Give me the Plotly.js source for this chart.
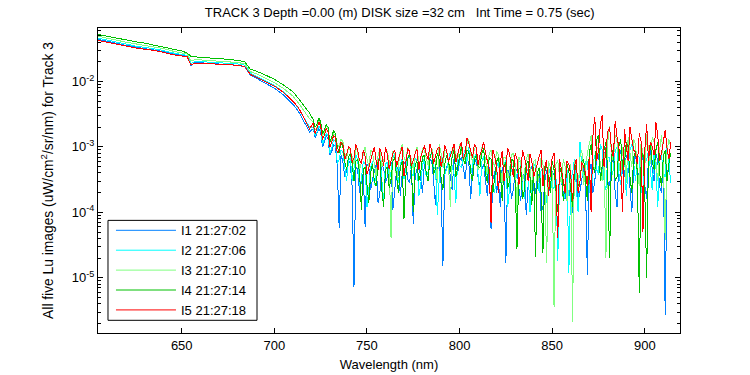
<!DOCTYPE html>
<html><head><meta charset="utf-8">
<script src="https://cdn.plot.ly/plotly-3.0.1.min.js"></script>
<style>html,body{margin:0;padding:0;background:#fff}#chart{width:750px;height:375px}
#chart .scatterlayer path.js-line{shape-rendering:crispEdges}</style>
</head><body><div id="chart"></div>
<script>
// Wavelength grid (nm)
const wavelength = [605,610,615,620,625,630,635,640,645,650,653,655,657,660,665,670,675,680,684,687,690,695,700,705,710,713,716,719,
721,722,723,724,725,726,727,728,729,730,
731,732,733,734,735,736,737,738,739,740,
741,742,743,744,745,746,747,748,749,750,
751,752,753,754,755,756,757,758,759,760,
761,762,763,764,765,766,767,768,769,770,
771,772,773,774,775,776,777,778,779,780,
781,782,783,784,785,786,787,788,789,790,
791,792,793,794,795,796,797,798,799,800,
801,802,803,804,805,806,807,808,809,810,
811,812,813,814,815,816,817,818,819,820,
821,822,823,824,825,826,827,828,829,830,
831,832,833,834,835,836,837,838,839,840,
841,842,843,844,845,846,847,848,849,850,
851,852,853,854,855,856,857,858,859,860,
861,862,863,864,865,866,867,868,869,870,
871,872,873,874,875,876,877,878,879,880,
881,882,883,884,885,886,887,888,889,890,
891,892,893,894,895,896,897,898,899,900,
901,902,903,904,905,906,907,908,909,910,
911,912,913,914];

const seriesNames = ["I1 21:27:02","I2 21:27:06","I3 21:27:10","I4 21:27:14","I5 21:27:18"];
const seriesColors = ["#0080FF","#00FFFF","#80FF80","#00C000","#FF0000"];

const I1 = [0.0440,0.0408,0.0382,0.0356,0.0335,0.0319,0.0306,0.0287,0.0264,0.0250,0.0242,0.0176,0.0192,0.0193,0.0190,0.0186,0.0181,0.0177,0.0168,0.0126,0.0113,0.0095,0.0079,0.0062,0.0045,0.0035,0.0025,0.0017,
1.9e-3,1.4e-3,1.6e-3,1.9e-3,1.7e-3,1.0e-3,1.2e-3,1.5e-3,1.3e-3,7.5e-4,
8.5e-4,1.1e-3,1.0e-3,5.0e-4,5.8e-5,7.5e-4,6.0e-4,3.5e-4,4.2e-4,6.5e-4,
5.5e-4,2.5e-4,7.3e-6,5.0e-4,4.5e-4,2.0e-4,3.0e-4,4.0e-4,6.0e-5,5.5e-4,
5.0e-4,2.2e-4,3.2e-4,4.5e-4,5.5e-4,1.4e-4,2.0e-4,5.2e-4,4.8e-4,2.8e-4,
3.5e-4,6.0e-4,5.8e-4,1.1e-4,2.6e-4,4.4e-4,5.0e-4,1.8e-4,3.8e-4,5.5e-4,
6.2e-4,3.2e-4,2.8e-4,5.0e-4,6.6e-5,3.5e-4,4.6e-4,5.8e-4,3.3e-4,2.0e-4,
5.6e-4,4.2e-4,3.0e-4,6.5e-4,6.0e-4,3.0e-4,1.3e-4,4.8e-4,5.2e-4,2.8e-4,
1.5e-5,4.0e-4,4.8e-4,6.0e-4,3.6e-4,2.2e-4,6.5e-4,5.0e-4,4.0e-4,6.2e-4,
7.0e-4,4.8e-4,3.2e-4,6.5e-4,5.8e-4,1.6e-4,4.5e-4,5.5e-4,6.8e-4,3.4e-4,
2.5e-4,4.6e-4,5.5e-4,3.0e-4,1.8e-4,5.0e-4,5.5e-5,3.2e-4,4.2e-4,2.0e-4,
3.0e-4,1.2e-4,5.0e-4,3.6e-4,1.7e-5,4.5e-4,3.8e-4,1.6e-4,2.2e-4,4.0e-4,
4.6e-4,2.4e-4,1.5e-4,3.2e-4,4.0e-4,9.0e-5,2.6e-4,4.5e-4,5.0e-4,2.2e-4,
1.9e-4,4.0e-4,3.5e-4,1.0e-4,1.2e-4,3.0e-4,4.4e-4,2.6e-4,2.0e-4,4.2e-4,
3.8e-4,1.5e-4,6.0e-5,3.5e-4,3.0e-4,2.0e-4,1.6e-4,3.6e-4,4.5e-4,1.0e-4,
1.0e-4,3.8e-4,3.2e-4,1.4e-4,2.2e-4,3.6e-4,4.8e-4,2.4e-4,1.1e-5,4.0e-4,
5.5e-4,2.0e-4,3.0e-4,6.5e-4,8.0e-4,3.5e-4,4.0e-4,7.0e-4,1.0e-3,3.0e-4,
2.5e-4,5.5e-4,7.0e-4,2.0e-4,1.2e-4,6.0e-4,9.0e-4,4.0e-4,3.5e-4,7.5e-4,
6.5e-4,2.4e-4,1.0e-4,5.0e-4,8.5e-4,3.0e-4,4.0e-4,6.0e-4,7.5e-4,2.6e-4,
1.6e-4,7.0e-4,9.5e-4,4.5e-4,3.0e-4,8.0e-4,6.0e-4,2.5e-4,2.0e-4,6.5e-4,
2.7e-6,4.0e-4,5.0e-4,3.0e-4];

const I2 = [0.0458,0.0425,0.0398,0.0370,0.0348,0.0332,0.0318,0.0298,0.0274,0.0260,0.0250,0.0188,0.0200,0.0201,0.0198,0.0194,0.0190,0.0186,0.0178,0.0135,0.0122,0.0104,0.0087,0.0069,0.0050,0.0039,0.0028,0.0020,
2.0e-3,1.5e-3,1.7e-3,2.1e-3,1.9e-3,1.1e-3,1.3e-3,1.6e-3,1.5e-3,8.0e-4,
9.5e-4,1.3e-3,1.2e-3,5.5e-4,6.5e-4,9.0e-4,8.5e-4,5.0e-4,3.0e-4,6.0e-4,
7.0e-4,3.0e-4,4.5e-4,7.5e-4,6.5e-4,2.5e-4,3.2e-4,6.0e-4,5.5e-4,1.2e-4,
2.2e-4,5.0e-4,6.0e-4,2.6e-4,4.0e-4,6.5e-4,7.0e-4,3.0e-4,1.5e-4,5.5e-4,
5.8e-4,3.0e-4,4.2e-4,6.8e-4,8.0e-4,4.0e-4,2.8e-4,5.5e-4,6.5e-4,3.2e-4,
4.8e-4,7.0e-4,7.5e-4,4.0e-4,3.6e-4,6.8e-4,6.0e-4,1.8e-4,2.6e-4,5.2e-4,
6.8e-4,3.5e-4,4.2e-4,7.0e-4,8.2e-4,4.6e-4,5.0e-4,9.0e-5,3.2e-4,6.0e-4,
7.0e-4,3.8e-4,4.5e-4,6.5e-4,8.5e-4,5.0e-4,3.8e-4,1.4e-4,6.8e-4,5.2e-4,
4.8e-4,7.5e-4,9.0e-4,6.0e-4,1.0e-3,3.8e-4,5.5e-4,7.0e-4,8.0e-4,4.2e-4,
1.8e-4,6.0e-4,7.2e-4,3.5e-4,4.4e-4,6.8e-4,6.5e-4,2.6e-4,2.0e-4,5.0e-4,
5.8e-4,2.8e-4,3.5e-4,5.5e-4,6.2e-4,1.2e-4,2.4e-4,4.8e-4,5.2e-4,3.0e-4,
3.8e-4,6.0e-4,5.8e-4,2.2e-4,1.6e-4,4.2e-4,4.6e-4,1.0e-4,2.8e-4,5.0e-4,
5.5e-4,3.2e-4,2.0e-4,4.5e-4,4.2e-4,1.8e-4,1.4e-4,5.0e-4,3.8e-4,2.2e-4,
2.4e-4,4.0e-4,1.8e-5,3.2e-4,3.6e-4,1.5e-4,2.0e-4,4.4e-4,1.2e-5,3.0e-4,
4.0e-4,6.5e-4,2.5e-4,1.0e-4,1.2e-3,5.0e-4,3.0e-4,6.0e-4,6.0e-4,2.4e-4,
1.5e-4,5.5e-4,7.5e-4,4.5e-4,3.8e-4,1.1e-3,9.0e-4,3.0e-4,2.2e-4,7.0e-4,
6.8e-4,3.5e-4,4.5e-4,8.5e-4,1.0e-3,4.0e-4,2.6e-4,6.0e-4,8.0e-4,1.8e-4,
5.0e-4,9.0e-4,1.1e-3,5.5e-4,3.0e-4,7.5e-4,7.0e-4,2.4e-4,1.6e-4,6.5e-4,
6.2e-4,9.0e-4,4.0e-4,2.2e-4,8.5e-4,5.0e-4,1.2e-4,6.0e-4,7.5e-4,4.0e-4,
3.5e-4,1.0e-3,6.0e-4,2.8e-4];

const I3 = [0.0490,0.0455,0.0425,0.0398,0.0376,0.0358,0.0340,0.0318,0.0292,0.0275,0.0262,0.0205,0.0215,0.0214,0.0210,0.0206,0.0201,0.0195,0.0187,0.0142,0.0132,0.0113,0.0096,0.0078,0.0060,0.0047,0.0036,0.0027,
2.4e-3,1.8e-3,2.0e-3,2.6e-3,2.3e-3,1.5e-3,1.7e-3,2.1e-3,1.9e-3,1.2e-3,
1.3e-3,1.6e-3,1.5e-3,1.1e-3,1.0e-3,1.3e-3,1.2e-3,8.0e-4,6.5e-4,1.0e-3,
9.0e-4,7.0e-4,5.5e-4,1.0e-3,8.5e-4,4.5e-4,6.0e-4,8.0e-4,1.0e-3,6.5e-4,
5.0e-4,9.0e-4,8.0e-4,5.5e-4,3.5e-4,7.5e-4,9.0e-4,5.0e-4,6.0e-4,9.5e-4,
8.5e-4,6.0e-4,4.0e-5,8.5e-4,7.5e-4,3.0e-4,5.5e-4,9.0e-4,1.1e-3,7.0e-4,
6.0e-4,1.0e-3,8.0e-4,6.5e-4,4.5e-4,8.0e-4,1.0e-3,5.5e-4,6.5e-4,9.5e-4,
8.8e-4,6.8e-4,5.2e-4,1.0e-3,9.5e-4,7.0e-4,6.0e-4,2.8e-4,1.1e-3,8.0e-4,
5.0e-4,9.0e-4,8.5e-4,6.0e-4,1.2e-4,8.0e-4,1.0e-3,7.5e-4,6.5e-4,1.1e-3,
9.0e-4,6.0e-4,7.0e-4,1.1e-3,1.3e-3,7.5e-4,5.8e-4,9.5e-4,1.0e-3,4.5e-4,
6.2e-4,1.0e-3,8.8e-4,6.5e-4,3.8e-4,8.0e-4,9.0e-4,6.0e-4,5.0e-4,8.5e-4,
7.5e-4,5.0e-4,2.8e-4,7.0e-4,6.8e-4,3.2e-4,4.5e-4,7.5e-4,8.0e-4,5.5e-4,
1.0e-4,7.0e-4,6.0e-4,3.0e-4,4.0e-4,6.5e-4,7.8e-4,5.0e-4,2.2e-4,6.0e-4,
6.5e-4,2.5e-4,3.8e-4,7.0e-4,5.5e-4,3.0e-4,1.7e-5,6.0e-4,5.0e-4,4.0e-4,
3.6e-6,5.5e-4,6.2e-4,3.5e-4,2.8e-4,6.5e-4,5.0e-4,1.5e-4,2.0e-4,5.5e-4,
2.1e-6,6.0e-4,4.5e-4,2.0e-4,7.0e-4,9.0e-4,2.6e-4,5.0e-4,8.0e-4,1.1e-3,
1.5e-3,6.5e-4,4.0e-4,1.0e-3,9.0e-4,5.5e-4,3.0e-4,8.0e-4,2.0e-5,1.2e-3,
2.1e-3,8.0e-4,6.0e-4,1.5e-3,1.2e-3,6.0e-4,3.5e-4,1.0e-3,9.0e-4,2.8e-4,
1.4e-3,8.0e-4,5.0e-4,1.3e-3,1.1e-3,4.5e-4,2.5e-4,1.2e-3,8.0e-4,5.0e-4,
1.6e-3,9.0e-4,5.5e-4,1.4e-3,1.2e-3,6.0e-4,3.0e-4,9.0e-4,1.5e-3,7.0e-4,
3.8e-5,8.5e-4,1.3e-3,1.0e-3];

const I4 = [0.0522,0.0488,0.0458,0.0430,0.0405,0.0385,0.0360,0.0340,0.0315,0.0292,0.0272,0.0240,0.0238,0.0235,0.0230,0.0225,0.0218,0.0210,0.0200,0.0155,0.0145,0.0126,0.0108,0.0088,0.0070,0.0055,0.0043,0.0033,
2.6e-3,2.0e-3,2.2e-3,2.8e-3,2.4e-3,1.6e-3,1.8e-3,2.2e-3,2.0e-3,1.2e-3,
1.4e-3,1.8e-3,1.6e-3,1.0e-3,8.0e-4,1.2e-3,1.0e-3,6.0e-4,4.5e-4,7.0e-4,
8.0e-4,5.5e-4,3.0e-4,6.0e-4,6.5e-4,4.0e-4,1.1e-4,4.5e-4,5.0e-4,2.6e-4,
1.4e-4,4.0e-4,5.5e-4,3.0e-4,2.5e-4,6.0e-4,6.5e-4,2.2e-4,1.2e-4,4.5e-4,
5.0e-4,2.4e-4,3.2e-4,6.0e-4,7.0e-4,3.5e-4,2.0e-4,5.0e-4,6.0e-4,8.0e-5,
3.5e-4,6.5e-4,8.0e-4,4.5e-4,1.0e-4,5.5e-4,6.0e-4,3.0e-4,4.0e-4,7.0e-4,
7.5e-4,4.0e-4,3.0e-4,6.8e-4,8.5e-4,3.8e-4,4.6e-4,8.0e-4,6.5e-4,3.4e-4,
2.2e-4,5.5e-4,7.5e-4,6.0e-4,4.2e-4,7.0e-4,9.0e-4,3.5e-4,5.0e-4,8.0e-4,
1.0e-3,6.5e-4,5.5e-4,9.0e-4,8.5e-4,4.0e-4,3.0e-4,6.5e-4,7.5e-4,5.0e-4,
4.8e-4,8.0e-4,9.5e-4,4.0e-4,2.8e-4,7.0e-4,6.5e-4,2.0e-4,3.6e-4,6.0e-4,
7.0e-4,4.0e-4,1.5e-4,5.0e-4,5.8e-4,2.4e-4,3.0e-4,6.5e-4,6.2e-4,3.0e-4,
2.8e-5,4.5e-4,5.0e-4,1.6e-4,2.2e-4,5.5e-4,6.0e-4,3.5e-4,1.3e-4,5.0e-4,
2.1e-5,4.0e-4,4.8e-4,2.0e-4,2.4e-5,4.2e-4,5.5e-4,3.0e-4,2.0e-4,6.0e-4,
4.5e-4,2.2e-4,1.0e-4,4.0e-4,5.0e-4,1.5e-4,2.6e-4,5.5e-4,4.2e-4,2.0e-4,
1.2e-4,4.0e-4,5.5e-4,2.5e-4,3.0e-4,6.0e-4,6.5e-4,3.0e-4,1.5e-4,8.0e-4,
1.1e-3,5.0e-4,4.0e-4,1.3e-3,1.5e-3,3.0e-4,5.0e-4,9.0e-4,1.2e-3,4.0e-4,
2.0e-5,7.0e-4,9.5e-4,3.0e-4,3.5e-4,1.0e-3,1.3e-3,4.5e-4,5.5e-4,1.2e-3,
1.0e-3,3.5e-4,2.0e-4,7.0e-4,8.5e-4,4.0e-4,5.9e-6,6.0e-4,8.0e-4,2.0e-4,
1.0e-5,7.5e-4,1.1e-3,6.0e-4,4.5e-4,9.0e-4,1.2e-3,4.0e-4,2.5e-4,7.0e-4,
9.0e-4,3.0e-4,5.5e-4,8.0e-4];

const I5 = [0.0424,0.0395,0.0370,0.0345,0.0325,0.0310,0.0299,0.0280,0.0258,0.0245,0.0238,0.0178,0.0190,0.0190,0.0187,0.0184,0.0180,0.0177,0.0170,0.0128,0.0117,0.0100,0.0085,0.0068,0.0050,0.0040,0.0028,0.0019,
2.3e-3,1.6e-3,1.9e-3,2.4e-3,2.1e-3,1.3e-3,1.5e-3,1.9e-3,1.7e-3,1.0e-3,
1.2e-3,1.5e-3,1.4e-3,8.0e-4,9.0e-4,1.2e-3,1.1e-3,6.5e-4,7.5e-4,1.0e-3,
9.5e-4,5.8e-4,6.8e-4,1.1e-3,8.8e-4,6.2e-4,5.5e-4,9.0e-4,7.2e-4,3.8e-4,
4.8e-4,6.5e-4,8.0e-4,1.0e-3,6.0e-4,4.5e-4,9.5e-4,7.5e-4,5.2e-4,9.8e-4,
7.8e-4,4.6e-4,5.8e-4,8.0e-4,9.0e-4,5.0e-4,6.5e-4,7.8e-4,1.0e-3,3.6e-4,
5.6e-4,9.5e-4,8.5e-4,5.2e-4,6.2e-4,8.0e-4,9.2e-4,4.4e-4,7.0e-4,9.0e-4,
1.05e-3,7.8e-4,6.4e-4,1.1e-3,8.8e-4,5.5e-4,7.5e-4,9.5e-4,1.0e-3,5.0e-4,
6.6e-4,1.05e-3,8.9e-4,6.0e-4,7.2e-4,9.2e-4,1.1e-3,5.8e-4,7.8e-4,1.0e-3,
1.2e-3,6.5e-4,8.0e-4,1.35e-3,1.15e-3,8.5e-4,6.8e-4,1.1e-3,9.8e-4,5.4e-4,
7.5e-4,9.0e-4,1.2e-3,8.2e-4,6.0e-4,4.5e-4,7.0e-5,9.0e-4,7.0e-4,5.0e-4,
2.0e-4,6.0e-4,8.5e-4,3.0e-4,5.0e-4,9.5e-4,7.8e-4,5.2e-4,3.5e-4,8.0e-4,
6.5e-4,2.6e-4,4.2e-4,8.8e-4,7.0e-4,5.0e-4,3.0e-4,7.8e-4,6.0e-4,3.5e-4,
4.5e-4,6.0e-4,7.5e-4,9.0e-4,2.5e-4,5.0e-4,6.2e-4,1.8e-4,4.0e-4,6.8e-4,
8.0e-4,3.0e-4,4.0e-5,6.5e-4,4.5e-4,2.8e-4,2.0e-4,6.0e-4,5.5e-4,3.8e-4,
1.5e-4,5.0e-4,6.5e-4,2.0e-4,3.0e-4,5.8e-4,5.0e-4,4.0e-4,2.5e-4,7.0e-4,
1.0e-4,1.5e-3,2.9e-3,6.0e-4,9.0e-4,2.2e-3,3.1e-3,5.0e-4,1.0e-3,1.7e-3,
2.0e-3,9.0e-4,7.0e-4,2.5e-3,1.4e-3,1.0e-3,4.5e-4,1.0e-4,1.9e-3,1.0e-3,
6.0e-4,2.0e-3,1.3e-3,9.0e-4,8.0e-4,5.5e-4,1.6e-3,1.2e-3,5.0e-5,9.0e-4,
2.2e-3,6.0e-4,1.2e-3,1.0e-3,7.5e-4,2.4e-3,1.5e-3,6.0e-4,8.0e-4,1.3e-3,
1.8e-3,9.5e-4,6.5e-4,1.2e-3];

const xTickVals = [650,700,750,800,850,900];
const yTickVals = [1e-5,1e-4,1e-3,1e-2];
const yTickText = ["10<sup>-5</sup>","10<sup>-4</sup>","10<sup>-3</sup>","10<sup>-2</sup>"];

const allSeries = [I1,I2,I3,I4,I5];
const traces = allSeries.map((ys,i)=>({
  x: wavelength, y: ys, type:'scatter', mode:'lines', name: seriesNames[i],
  line:{color: seriesColors[i], width:1}, hoverinfo:'skip'
}));

const minorVals = [];
for (let d=-6; d<=-2; d++) for (let k=2; k<=9; k++) minorVals.push(k*Math.pow(10,d));

const FONT = 'Liberation Sans, Arial, Helvetica, sans-serif';
const layout = {
  width:750, height:375,
  paper_bgcolor:'#fff', plot_bgcolor:'#fff',
  margin:{l:98, r:70, t:28, b:42, pad:0},
  font:{family:FONT, size:13, color:'#000'},
  showlegend:true,
  title:{text:'TRACK 3 Depth =0.00 (m) DISK size =32 cm \u00a0 Int Time = 0.75 (sec)', x:0.533, xanchor:'center', y:0.968, yanchor:'middle', font:{family:FONT,size:13,color:'#000'}},
  xaxis:{range:[604.8,919], tickvals:xTickVals, ticks:'inside', ticklen:5, tickcolor:'#000',
    showline:true, linecolor:'#000', linewidth:1, mirror:'ticks', showgrid:false, zeroline:false,
    tickfont:{family:FONT,size:13,color:'#000'},
    title:{text:'Wavelength (nm)', font:{family:FONT,size:13,color:'#000'}, standoff:8}},
  yaxis:{type:'log', range:[-5.843,-1.183], tickvals:yTickVals, ticktext:yTickText, ticks:'inside', ticklen:5, tickcolor:'#000',
    showline:true, linecolor:'#000', linewidth:1, mirror:'ticks', showgrid:false, zeroline:false,
    minor:{tickvals:minorVals, ticks:'inside', ticklen:3, tickcolor:'#000', showgrid:false},
    tickfont:{family:FONT,size:13,color:'#000'},
    title:{text:'All five Lu images (uW/cm<sup>2</sup>/sr/nm) for Track 3', font:{family:FONT,size:13.8,color:'#000'}, standoff:15}},
  shapes:[{type:'rect', xref:'paper', yref:'paper', x0:0.01718, x1:0.2732, y0:0.0416, y1:0.3693,
    fillcolor:'#fff', line:{color:'#000', width:1}, layer:'above'}],
  legend:{x:0.0223, y:0.3857, xanchor:'left', yanchor:'top', bgcolor:'rgba(0,0,0,0)', borderwidth:0,
    font:{family:FONT,size:13,color:'#000'}, itemwidth:60, tracegroupgap:0}
};
Plotly.newPlot('chart', traces, layout, {staticPlot:true, displayModeBar:false});
</script></body></html>
